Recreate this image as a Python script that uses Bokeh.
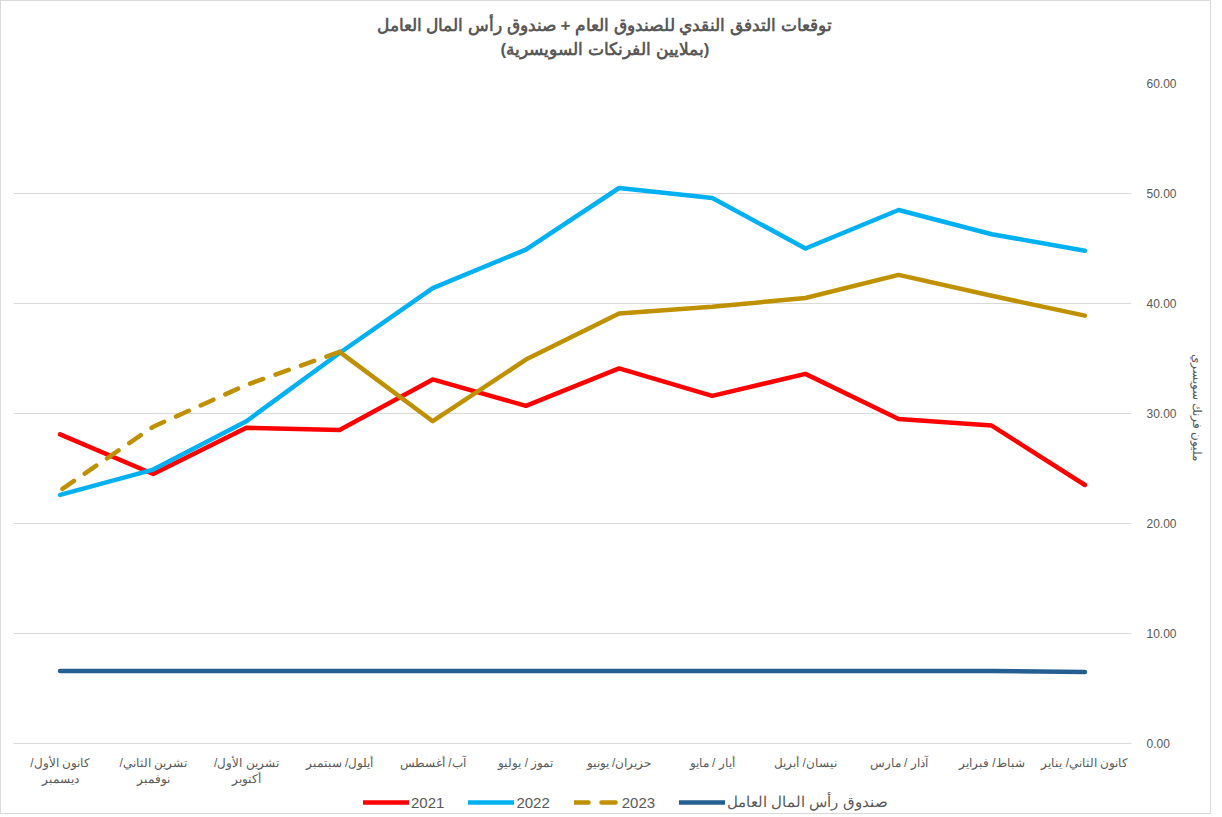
from bokeh.plotting import figure
from bokeh.models import FactorRange, Range1d, Legend, LegendItem, Title, FixedTicker, NumeralTickFormatter
from bokeh.embed import file_html
from bokeh.resources import INLINE

months = ["كانون الثاني/ يناير", "شباط/ فبراير", "آذار / مارس", "نيسان/ أبريل", "أيار / مايو",
          "حزيران/ يونيو", "تموز / يوليو", "آب/ أغسطس", "أيلول/ سبتمبر",
          "/تشرين الأول\nأكتوبر", "/تشرين الثاني\nنوفمبر", "/كانون الأول\nديسمبر"]
y2021 = [23.5, 28.9, 29.5, 33.6, 31.6, 34.1, 30.7, 33.1, 28.5, 28.7, 24.5, 28.1]
y2022 = [44.8, 46.3, 48.5, 45.0, 49.6, 50.5, 44.9, 41.4, 35.5, 29.3, 24.9, 22.6]
y2023 = [38.9, 40.7, 42.6, 40.5, 39.7, 39.1, 34.9, 29.3, 35.6, 32.6, 28.8, 23.0]
wcf = [6.5, 6.6, 6.6, 6.6, 6.6, 6.6, 6.6, 6.6, 6.6, 6.6, 6.6, 6.6]
split_2023 = 8  # last actual month index; forecast dashed after it
y_ticks = [0, 10, 20, 30, 40, 50, 60]

title_line1 = "توقعات التدفق النقدي للصندوق العام + صندوق رأس المال العامل"
title_line2 = "(بملايين الفرنكات السويسرية)"
y_label = "مليون فرنك سويسري"
legend_labels = ["2021", "2022", "2023", "صندوق رأس المال العامل"]

GRAY = "#595959"
FONT = "Liberation Sans"

FRAME_H = 730
PX_PER_UNIT = 11.0
y_bottom = -(FRAME_H - 60 * PX_PER_UNIT) / PX_PER_UNIT  # room under the axis for labels + legend

p = figure(frame_width=1118, frame_height=FRAME_H, output_backend="svg", toolbar_location=None,
           x_range=FactorRange(factors=list(reversed(months)), range_padding=0),
           y_range=Range1d(y_bottom, 60), y_axis_location="right")
p.min_border_left = 6
p.min_border_right = 0
p.min_border_top = 0
p.min_border_bottom = 0
p.outline_line_color = None
p.styles = {"border": "1px solid #d9d9d9", "box-sizing": "border-box"}

tstyle = dict(text_font_size="17px", text_font_style="bold", text_color=GRAY, text_font=FONT)
p.add_layout(Title(text=" ", text_font_size="1px", standoff=30), "above")
p.add_layout(Title(text=title_line2, align="left", offset=487, standoff=-17, **tstyle), "above")
p.add_layout(Title(text=title_line1, align="left", offset=363, standoff=24, **tstyle), "above")
p.add_layout(Title(text=" ", text_font_size="1px", standoff=9), "left")

common = dict(line_width=4.5, line_cap="round", line_join="round")
r21 = p.line(months, y2021, color="#ff0000", **common)
r22 = p.line(months, y2022, color="#00b0f0", **common)
r23 = p.line(months[:split_2023 + 1], y2023[:split_2023 + 1], color="#bf9000", **common)
r23d = p.line(months[split_2023:], y2023[split_2023:], color="#bf9000", line_dash="14 13", **common)
rw = p.line(months, wcf, color="#255e91", **common)

p.xgrid.grid_line_color = None
p.ygrid.grid_line_color = "#d9d9d9"
p.ygrid.grid_line_width = 1

ya = p.yaxis[0]
ya.ticker = FixedTicker(ticks=y_ticks)
ya.formatter = NumeralTickFormatter(format="0.00")
ya.axis_line_color = None
ya.major_tick_line_color = None
ya.minor_tick_line_color = None
ya.major_label_text_color = GRAY
ya.major_label_text_font_size = "12px"
ya.major_label_text_font = FONT
ya.major_label_standoff = 9

# y-axis title as a side title so it can be centred on the 0-60 span
p.add_layout(Title(text=" ", text_font_size="1px", standoff=2), "right")
p.add_layout(Title(text=y_label, align="left", offset=270, standoff=10,
                   text_font_size="12px", text_font_style="normal", text_color=GRAY), "right")

xa = p.xaxis[0]
xa.fixed_location = 0
xa.axis_line_color = "#d9d9d9"
xa.major_tick_line_color = None
xa.minor_tick_line_color = None
xa.major_label_text_color = GRAY
xa.major_label_text_font_size = "12px"
xa.major_label_standoff = 6

legend = Legend(items=[LegendItem(label=legend_labels[0], renderers=[r21]),
                       LegendItem(label=legend_labels[1], renderers=[r22]),
                       LegendItem(label=legend_labels[2], renderers=[r23d]),
                       LegendItem(label=legend_labels[3], renderers=[rw])],
                orientation="horizontal", location=(350, 2), border_line_color=None,
                background_fill_alpha=0,
                label_text_color=GRAY, label_text_font_size="15px", label_text_font=FONT,
                glyph_width=46, glyph_height=16, label_height=16, spacing=24,
                padding=0, margin=0, label_standoff=2)
p.add_layout(legend, "center")

open("out.html", "w").write(file_html(p, INLINE))
